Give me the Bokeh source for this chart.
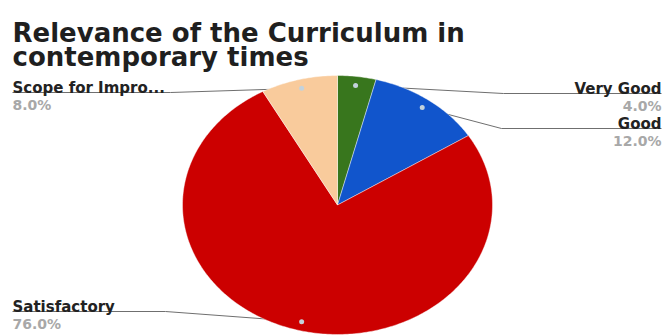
import math
from bokeh.plotting import figure
from bokeh.models import Range1d, ColumnDataSource
from bokeh.core.properties import value
from bokeh.embed import file_html
from bokeh.resources import INLINE

# ---- data ----
title_lines = ["Relevance of the Curriculum in", "contemporary times"]
categories = ["Very Good", "Good", "Satisfactory", "Scope for Improvement"]
shown_labels = ["Very Good", "Good", "Satisfactory", "Scope for Impro..."]
percent = [4.0, 12.0, 76.0, 8.0]
colors = ["#38761d", "#1155cc", "#cc0000", "#f9cb9c"]

# ---- layout (picture pixel coordinates) ----
W, H = 672, 335
CX, CY, RX, RY = 337, 204.5, 155, 129.5
DOT_F = 0.93
label_side = ["right", "right", "left", "left"]
label_line_y = [93, 128, 311, 92]
elbow_x = [503, 501, 165, 170]
RIGHT_X, LEFT_X = 661, 12

p = figure(width=W, height=H, output_backend="svg", toolbar_location=None,
           x_range=Range1d(0, W), y_range=Range1d(H, 0),
           min_border=0, x_axis_location=None, y_axis_location=None)
p.grid.grid_line_color = None
p.outline_line_color = None
p.background_fill_color = "white"

total = sum(percent)
xs, ys, mids = [], [], []
start = 0.0
for v in percent:
    a0 = start / total * 2 * math.pi
    a1 = (start + v) / total * 2 * math.pi
    n = max(6, int(v * 4))
    angs = [a0 + (a1 - a0) * i / n for i in range(n + 1)]
    xs.append([CX] + [CX + RX * math.sin(a) for a in angs])
    ys.append([CY] + [CY - RY * math.cos(a) for a in angs])
    mids.append((a0 + a1) / 2)
    start += v

dot_x = [CX + DOT_F * RX * math.sin(m) for m in mids]
dot_y = [CY - DOT_F * RY * math.cos(m) for m in mids]

# leader lines (under the pie)
lx, ly = [], []
for i in range(len(percent)):
    end_x = RIGHT_X if label_side[i] == "right" else LEFT_X
    lx.append([dot_x[i], elbow_x[i], end_x])
    ly.append([dot_y[i], label_line_y[i], label_line_y[i]])
p.multi_line(xs=lx, ys=ly, line_color="#6f6f6f", line_width=1)

p.patches(xs=xs, ys=ys, fill_color=colors, line_color="white",
          line_width=0.6, line_alpha=0.7)

p.scatter(x=dot_x, y=dot_y, size=5, fill_color="#c3d2dc", line_color=None)

# labels
anchor_x = [RIGHT_X if s == "right" else LEFT_X for s in label_side]
anchor_a = ["right" if s == "right" else "left" for s in label_side]
name_src = ColumnDataSource(dict(
    x=anchor_x, y=[v - 5 for v in label_line_y], t=shown_labels, a=anchor_a))
pct_src = ColumnDataSource(dict(
    x=anchor_x, y=[v + 12.5 for v in label_line_y],
    t=["%.1f%%" % v for v in percent], a=anchor_a))
p.text(x="x", y="y", text="t", text_align="a", source=name_src,
       text_font=value("DejaVu Sans"), text_font_style="bold",
       text_font_size="15px", text_color="#222222", text_baseline="alphabetic")
p.text(x="x", y="y", text="t", text_align="a", source=pct_src,
       text_font=value("DejaVu Sans"), text_font_style="bold",
       text_font_size="14px", text_color="#a8a8a8", text_baseline="alphabetic")

# title
p.text(x=[12, 12], y=[32, 56], text=title_lines,
       text_font=value("DejaVu Sans"), text_font_style="bold",
       text_font_size="26px", text_color="#1f1f1f", text_baseline="alphabetic")

open("out.html", "w").write(file_html(p, INLINE))
